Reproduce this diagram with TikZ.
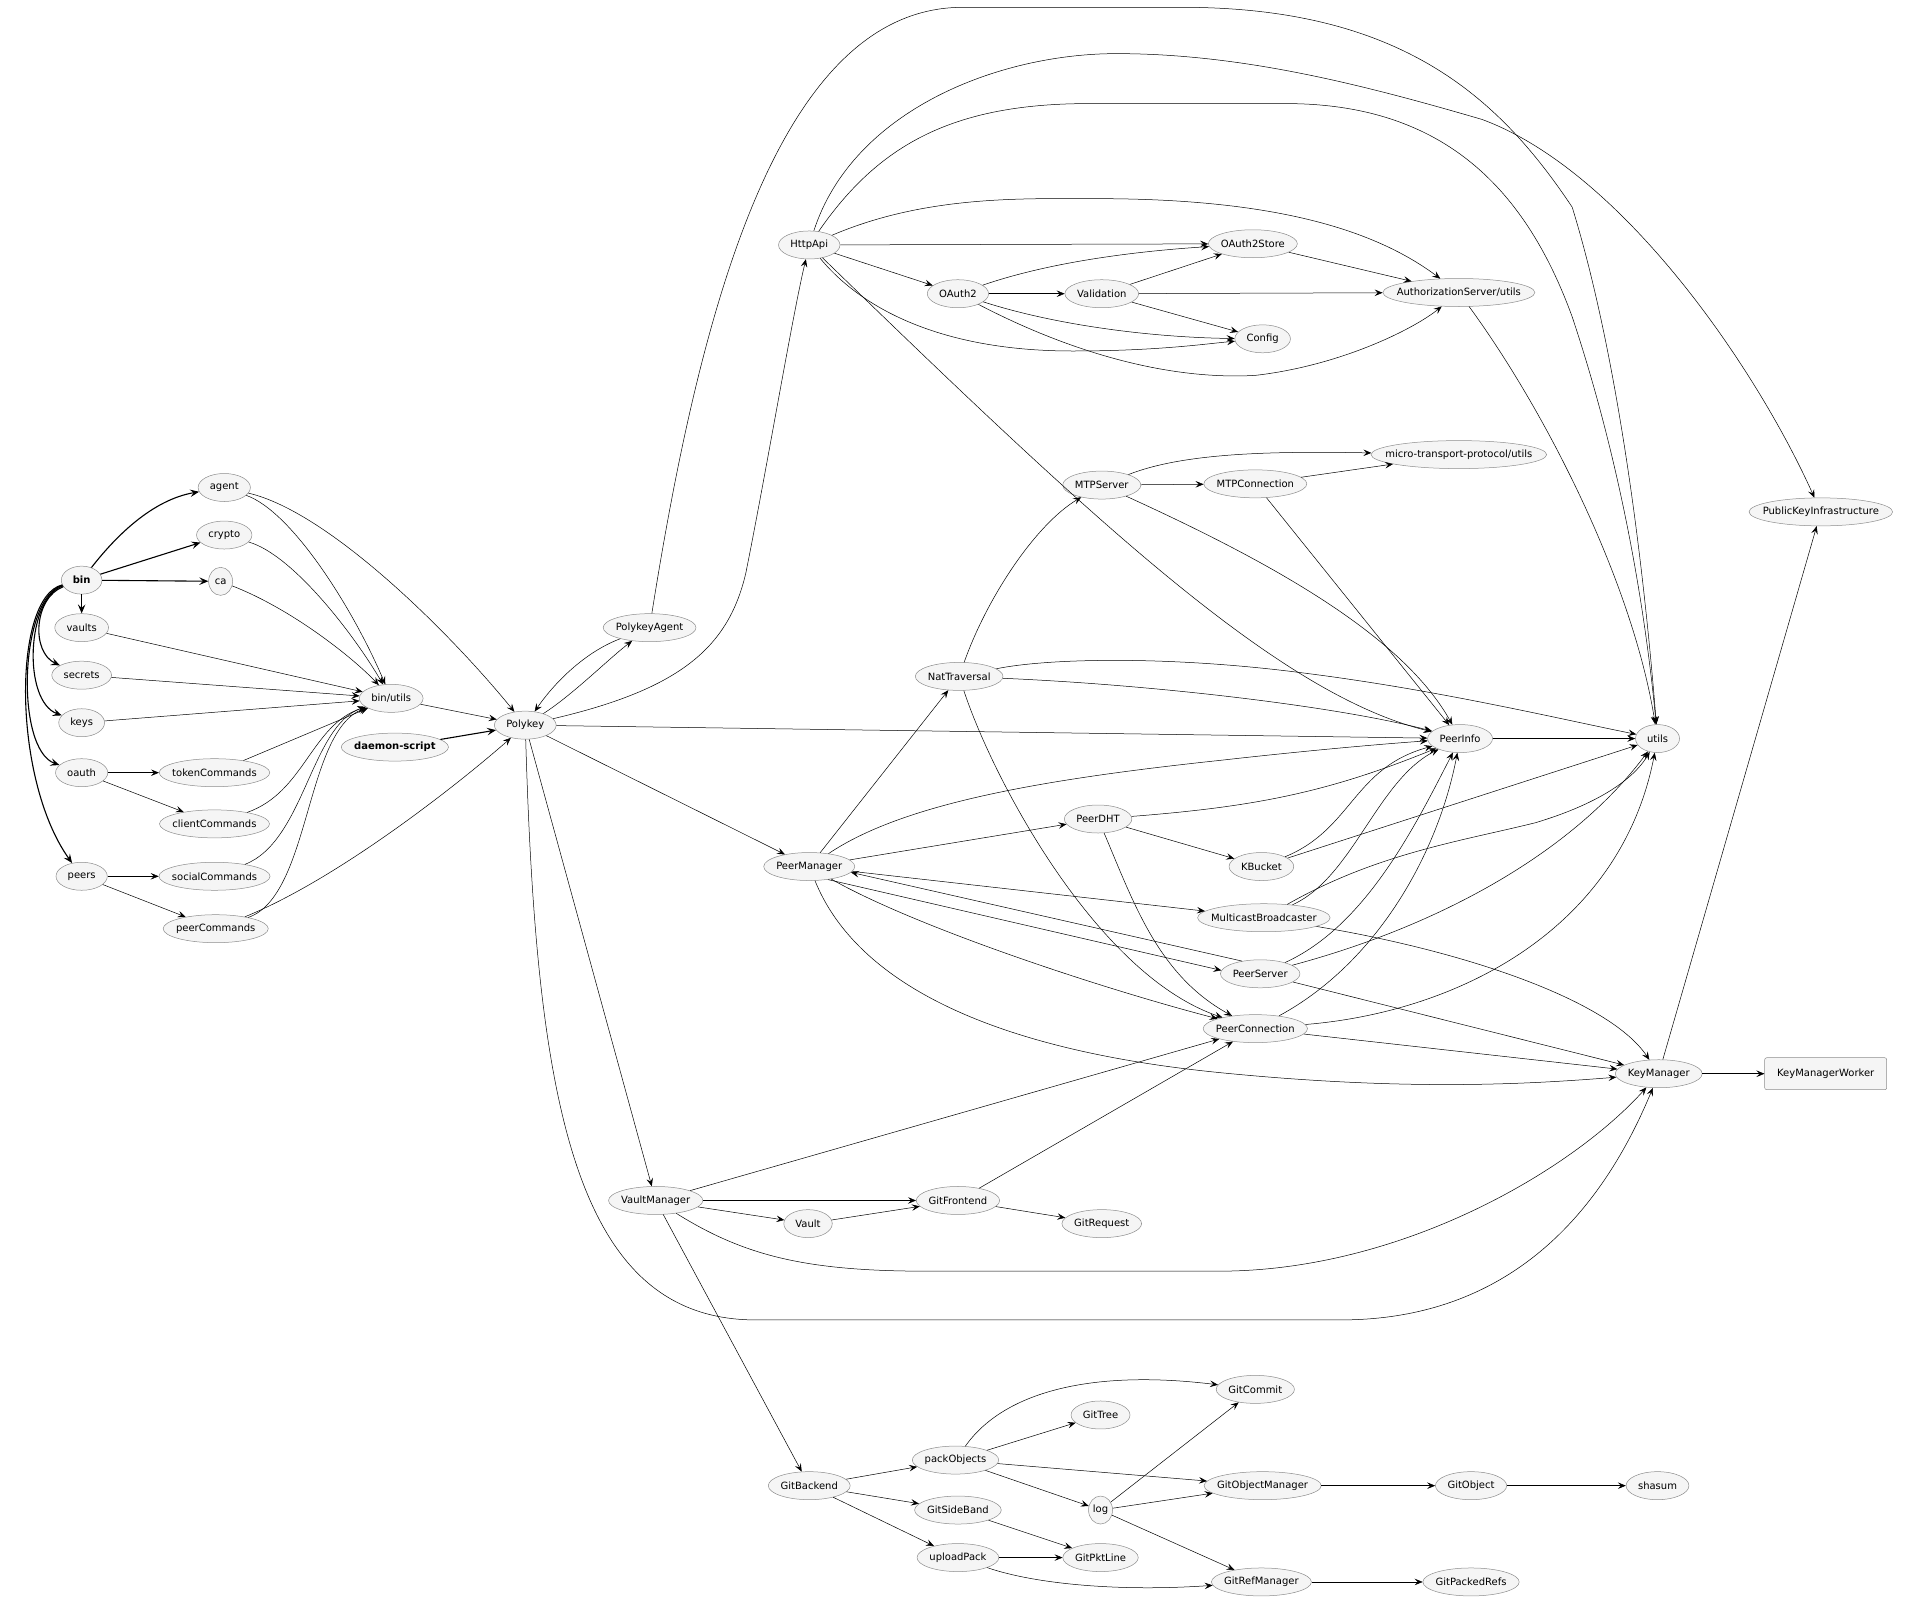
\documentclass[tikz,border=0pt]{standalone}
\usepackage{fontspec}
\setmainfont{DejaVu Sans}
\usetikzlibrary{shapes.geometric, arrows.meta}
\newcommand{\mlab}[1]{\makebox[0.74\width]{#1}} % narrower box, so long names get flatter ellipses
\tikzset{%
  mod/.style={ellipse, draw=black!45, fill=black!4, line width=0.5pt,
    inner xsep=7.8pt, inner ysep=1pt, minimum height=28pt, minimum width=24pt,
    font=\fontsize{10}{12}\selectfont}, % one module
  tiny mod/.style={mod, inner xsep=2pt},
  worker/.style={rectangle, rounded corners=2pt, draw=black!45, fill=black!4, line width=0.5pt,
    minimum height=32pt, minimum width=122pt, font=\fontsize{10}{12}\selectfont},
  dep/.style={draw, ->, >={Stealth[length=8pt, width=6.5pt, inset=3.2pt]}, line width=0.5pt},
  cmd/.style={dep, line width=1.1pt, >={Stealth[length=9pt, width=7.5pt, inset=3.6pt]}}
}

\begin{document}
\begin{tikzpicture}[x=1.2188pt, y=-1.2188pt]
    \useasboundingbox (0,0) rectangle (1568,1318);
    % cli
    \node[mod] (bin) at (67,476) {\mlab{\textbf{bin}}};
    \node[mod] (agent) at (184,400) {\mlab{agent}};
    \node[mod] (crypto) at (184,439) {\mlab{crypto}};
    \node[tiny mod] (ca) at (181,477) {\mlab{ca}};
    \node[mod] (vaults) at (67,515) {\mlab{vaults}};
    \node[mod] (secrets) at (67,554) {\mlab{secrets}};
    \node[mod] (keys) at (67,593) {\mlab{keys}};
    \node[mod] (oauth) at (67,634) {\mlab{oauth}};
    \node[mod] (tokenCommands) at (176,634) {\mlab{tokenCommands}};
    \node[mod] (clientCommands) at (176,676) {\mlab{clientCommands}};
    \node[mod] (peers) at (67,719) {\mlab{peers}};
    \node[mod] (socialCommands) at (176,719) {\mlab{socialCommands}};
    \node[mod] (peerCommands) at (177,762) {\mlab{peerCommands}};
    \node[mod] (binutils) at (321,573) {\mlab{bin/utils}};
    \node[mod] (daemon) at (324,613) {\mlab{\textbf{daemon-script}}};
    % core
    \node[mod] (Polykey) at (431,595) {\mlab{Polykey}};
    \node[mod] (PolykeyAgent) at (533,515) {\mlab{PolykeyAgent}};
    \node[mod] (HttpApi) at (664,201) {\mlab{HttpApi}};
    \node[mod] (OAuth2) at (786,241) {\mlab{OAuth2}};
    \node[mod] (Validation) at (904,241) {\mlab{Validation}};
    \node[mod] (OAuth2Store) at (1028,200) {\mlab{OAuth2Store}};
    \node[mod] (Config) at (1036,278) {\mlab{Config}};
    \node[mod] (AuthUtils) at (1197,240) {\mlab{AuthorizationServer/utils}};
    \node[mod] (MTPServer) at (904,398) {\mlab{MTPServer}};
    \node[mod] (MTPConnection) at (1030,397) {\mlab{MTPConnection}};
    \node[mod] (mtpUtils) at (1197,373) {\mlab{micro-transport-protocol/utils}};
    \node[mod] (PKI) at (1494,420) {\mlab{PublicKeyInfrastructure}};
    \node[mod] (NatTraversal) at (787,555) {\mlab{NatTraversal}};
    \node[mod] (PeerInfo) at (1198,606) {\mlab{PeerInfo}};
    \node[mod] (utils) at (1360,606) {\mlab{utils}};
    \node[mod] (PeerManager) at (664,711) {\mlab{PeerManager}};
    \node[mod] (PeerDHT) at (901,672) {\mlab{PeerDHT}};
    \node[mod] (KBucket) at (1035,711) {\mlab{KBucket}};
    \node[mod] (Multicast) at (1037,753) {\mlab{MulticastBroadcaster}};
    \node[mod] (PeerServer) at (1034,799) {\mlab{PeerServer}};
    \node[mod] (PeerConnection) at (1030,844) {\mlab{PeerConnection}};
    \node[mod] (KeyManager) at (1361,881) {\mlab{KeyManager}};
    \node[worker] (KeyManagerWorker) at (1498,881) {KeyManagerWorker};
    % vaults and git
    \node[mod] (VaultManager) at (538,985) {\mlab{VaultManager}};
    \node[mod] (Vault) at (663,1004) {\mlab{Vault}};
    \node[mod] (GitFrontend) at (786,985) {\mlab{GitFrontend}};
    \node[mod] (GitRequest) at (904,1004) {\mlab{GitRequest}};
    \node[mod] (GitCommit) at (1030,1140) {\mlab{GitCommit}};
    \node[mod] (GitTree) at (903,1161) {\mlab{GitTree}};
    \node[mod] (packObjects) at (784,1198) {\mlab{packObjects}};
    \node[mod] (GitBackend) at (664,1219) {\mlab{GitBackend}};
    \node[mod] (GitObjectManager) at (1036,1219) {\mlab{GitObjectManager}};
    \node[mod] (GitObject) at (1207,1219) {\mlab{GitObject}};
    \node[mod] (shasum) at (1360,1219) {\mlab{shasum}};
    \node[mod] (GitSideBand) at (786,1239) {\mlab{GitSideBand}};
    \node[tiny mod] (log) at (903,1239) {\mlab{log}};
    \node[mod] (uploadPack) at (786,1278) {\mlab{uploadPack}};
    \node[mod] (GitPktLine) at (903,1278) {\mlab{GitPktLine}};
    \node[mod] (GitRefManager) at (1035,1298) {\mlab{GitRefManager}};
    \node[mod] (GitPackedRefs) at (1207,1298) {\mlab{GitPackedRefs}};

    % bin
    \draw[cmd] (bin) .. controls (95,440) and (125,410) .. (agent);
    \draw[cmd] (bin) -- (crypto);
    \draw[cmd] (bin) -- (ca);
    \draw[cmd] (bin) -- (vaults);
    \draw[cmd] (bin) .. controls (28,490) and (25,535) .. (secrets);
    \draw[cmd] (bin) .. controls (22,490) and (18,575) .. (keys);
    \draw[cmd] (bin) .. controls (16,490) and (12,615) .. (oauth);
    \draw[cmd] (bin) .. controls (10,490) and (10,640) .. (peers);
    \draw[cmd] (daemon) -- (Polykey);

    \draw[dep] (agent) .. controls (240,420) and (290,500) .. (binutils);
    \draw[dep] (agent) .. controls (270,420) and (370,520) .. (Polykey);
    \draw[dep] (crypto) .. controls (240,455) and (290,520) .. (binutils);
    \draw[dep] (ca) .. controls (240,500) and (290,540) .. (binutils);
    \draw[dep] (vaults) -- (binutils);
    \draw[dep] (secrets) -- (binutils);
    \draw[dep] (keys) -- (binutils);
    \draw[dep] (oauth) -- (tokenCommands);
    \draw[dep] (oauth) -- (clientCommands);
    \draw[dep] (tokenCommands) -- (binutils);
    \draw[dep] (clientCommands) .. controls (250,650) and (255,595) .. (binutils);
    \draw[dep] (peers) -- (socialCommands);
    \draw[dep] (peers) -- (peerCommands);
    \draw[dep] (socialCommands) .. controls (250,690) and (255,595) .. (binutils);
    \draw[dep] (peerCommands) .. controls (255,735) and (250,600) .. (binutils);
    \draw[dep] (peerCommands) .. controls (280,720) and (380,640) .. (Polykey);
    \draw[dep] (binutils) -- (Polykey);

    % Polykey
    \draw[dep] (Polykey) .. controls (470,570) and (500,540) .. (PolykeyAgent);
    \draw[dep] (PolykeyAgent) .. controls (480,535) and (455,560) .. (Polykey);
    \draw[dep] (PolykeyAgent) .. controls (575,250) and (640,6) .. (790,6) -- (970,6)
        .. controls (1150,6) and (1230,80) .. (1290,170) .. controls (1330,300) and (1350,480) .. (utils);
    \draw[dep] (Polykey) .. controls (560,565) and (598,530) .. (612,470)
        .. controls (630,380) and (650,260) .. (HttpApi);
    \draw[dep] (Polykey) -- (PeerInfo);
    \draw[dep] (Polykey) -- (PeerManager);
    \draw[dep] (Polykey) -- (VaultManager);
    \draw[dep] (Polykey) .. controls (440,900) and (470,1083) .. (620,1083) -- (1100,1083)
        .. controls (1250,1083) and (1320,980) .. (KeyManager);

    % HttpApi
    \draw[dep] (HttpApi) -- (OAuth2Store);
    \draw[dep] (HttpApi) -- (OAuth2);
    \draw[dep] (HttpApi) .. controls (700,245) and (760,288) .. (880,288)
        .. controls (950,288) and (990,282) .. (Config);
    \draw[dep] (HttpApi) .. controls (760,160) and (840,163) .. (900,163)
        .. controls (1050,163) and (1130,190) .. (AuthUtils);
    \draw[dep] (HttpApi) .. controls (720,120) and (780,85) .. (893,85) -- (1055,85)
        .. controls (1180,85) and (1250,150) .. (1290,260) .. controls (1330,380) and (1350,500) .. (utils);
    \draw[dep] (HttpApi) .. controls (700,90) and (820,44) .. (916,44)
        .. controls (1020,44) and (1120,70) .. (1216,98) .. controls (1330,140) and (1440,300) .. (PKI);
    \draw[dep] (HttpApi) .. controls (900,430) and (1050,570) .. (PeerInfo);
    \draw[dep] (OAuth2) .. controls (870,212) and (950,205) .. (OAuth2Store);
    \draw[dep] (OAuth2) -- (Validation);
    \draw[dep] (OAuth2) .. controls (870,268) and (950,277) .. (Config);
    \draw[dep] (OAuth2) .. controls (880,290) and (960,312) .. (1030,308)
        .. controls (1100,300) and (1160,270) .. (AuthUtils);
    \draw[dep] (Validation) -- (OAuth2Store);
    \draw[dep] (Validation) -- (AuthUtils);
    \draw[dep] (Validation) -- (Config);
    \draw[dep] (OAuth2Store) -- (AuthUtils);
    \draw[dep] (AuthUtils) .. controls (1270,340) and (1340,480) .. (utils);

    % transport
    \draw[dep] (NatTraversal) .. controls (810,490) and (850,430) .. (MTPServer);
    \draw[dep] (NatTraversal) .. controls (950,562) and (1100,580) .. (PeerInfo);
    \draw[dep] (NatTraversal) .. controls (860,540) and (960,538) .. (1068,552)
        .. controls (1180,566) and (1280,590) .. (utils);
    \draw[dep] (NatTraversal) .. controls (815,640) and (900,800) .. (PeerConnection);
    \draw[dep] (MTPServer) -- (MTPConnection);
    \draw[dep] (MTPServer) .. controls (970,372) and (1040,370) .. (mtpUtils);
    \draw[dep] (MTPServer) .. controls (1040,460) and (1150,520) .. (PeerInfo);
    \draw[dep] (MTPConnection) -- (mtpUtils);
    \draw[dep] (MTPConnection) -- (PeerInfo);
    \draw[dep] (PeerInfo) -- (utils);

    % peers
    \draw[dep] (PeerManager) -- (NatTraversal);
    \draw[dep] (PeerManager) .. controls (740,660) and (850,640) .. (1000,624)
        .. controls (1080,615) and (1140,610) .. (PeerInfo);
    \draw[dep] (PeerManager) -- (PeerDHT);
    \draw[dep] (PeerManager) -- (Multicast);
    \draw[dep] (PeerManager.-35) -- (PeerServer.175);
    \draw[dep] (PeerManager) .. controls (750,760) and (900,810) .. (PeerConnection);
    \draw[dep] (PeerManager) .. controls (700,800) and (800,860) .. (1000,880)
        .. controls (1150,895) and (1250,890) .. (KeyManager);
    \draw[dep] (PeerServer.145) -- (PeerManager.-8);
    \draw[dep] (PeerDHT) .. controls (1030,662) and (1090,650) .. (PeerInfo);
    \draw[dep] (PeerDHT) -- (KBucket);
    \draw[dep] (PeerDHT) .. controls (930,740) and (950,800) .. (PeerConnection);
    \draw[dep] (KBucket) .. controls (1110,680) and (1110,630) .. (PeerInfo);
    \draw[dep] (KBucket) -- (utils);
    \draw[dep] (Multicast) .. controls (1110,720) and (1130,640) .. (PeerInfo);
    \draw[dep] (Multicast) .. controls (1130,700) and (1200,690) .. (1260,675)
        .. controls (1310,660) and (1340,640) .. (utils);
    \draw[dep] (Multicast) .. controls (1200,780) and (1320,820) .. (KeyManager);
    \draw[dep] (PeerServer) .. controls (1120,760) and (1160,680) .. (PeerInfo);
    \draw[dep] (PeerServer) .. controls (1180,760) and (1290,700) .. (utils);
    \draw[dep] (PeerServer) -- (KeyManager);
    \draw[dep] (PeerConnection) .. controls (1130,790) and (1180,700) .. (PeerInfo);
    \draw[dep] (PeerConnection) .. controls (1200,830) and (1330,760) .. (utils);
    \draw[dep] (PeerConnection) -- (KeyManager);
    \draw[dep] (KeyManager) -- (KeyManagerWorker);
    \draw[dep] (KeyManager) -- (PKI);

    % vaults
    \draw[dep] (VaultManager) -- (PeerConnection);
    \draw[dep] (VaultManager) -- (GitFrontend);
    \draw[dep] (VaultManager) -- (Vault);
    \draw[dep] (VaultManager) .. controls (610,1030) and (660,1043) .. (760,1043) -- (1000,1043)
        .. controls (1150,1043) and (1290,960) .. (KeyManager);
    \draw[dep] (VaultManager) -- (GitBackend);
    \draw[dep] (Vault) -- (GitFrontend);
    \draw[dep] (GitFrontend) -- (GitRequest);
    \draw[dep] (GitFrontend) -- (PeerConnection);

    % git
    \draw[dep] (GitBackend) -- (packObjects);
    \draw[dep] (GitBackend) -- (GitSideBand);
    \draw[dep] (GitBackend) -- (uploadPack);
    \draw[dep] (packObjects) .. controls (825,1140) and (900,1124) .. (GitCommit);
    \draw[dep] (packObjects) -- (GitTree);
    \draw[dep] (packObjects) -- (GitObjectManager);
    \draw[dep] (packObjects) -- (log);
    \draw[dep] (log) -- (GitCommit);
    \draw[dep] (log) -- (GitObjectManager);
    \draw[dep] (log) -- (GitRefManager);
    \draw[dep] (GitSideBand) -- (GitPktLine);
    \draw[dep] (uploadPack) -- (GitPktLine);
    \draw[dep] (uploadPack) .. controls (850,1300) and (920,1306) .. (GitRefManager);
    \draw[dep] (GitObjectManager) -- (GitObject);
    \draw[dep] (GitObject) -- (shasum);
    \draw[dep] (GitRefManager) -- (GitPackedRefs);
\end{tikzpicture}
\end{document}
